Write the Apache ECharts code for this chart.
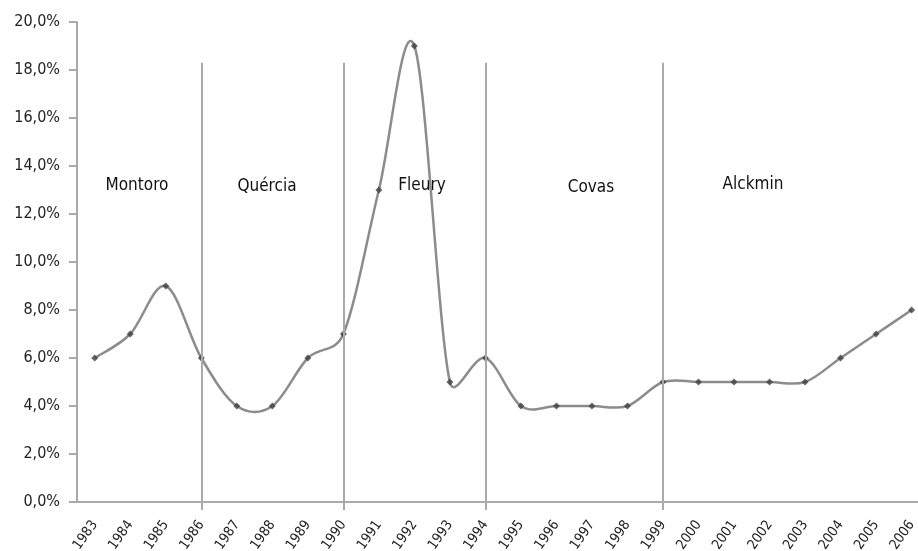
<!DOCTYPE html>
<html>
<head>
<meta charset="utf-8">
<script src="https://cdn.jsdelivr.net/npm/echarts@6/dist/echarts.min.js"></script>
<style>
html,body{margin:0;padding:0;background:#fff;}
#chart{width:918px;height:551px;}
</style>
</head>
<body>
<div id="chart"></div>
<script>
// ---- data ----
var years = ['1983','1984','1985','1986','1987','1988','1989','1990','1991','1992','1993','1994','1995','1996','1997','1998','1999','2000','2001','2002','2003','2004','2005','2006'];
var values = [6, 7, 9, 6, 4, 4, 6, 7, 13, 19, 5, 6, 4, 4, 4, 4, 5, 5, 5, 5, 5, 6, 7, 8];
var dividerYears = ['1986', '1990', '1994', '1999'];
var dividerTop = 18.3;
var governors = ['Montoro', 'Quércia', 'Fleury', 'Covas', 'Alckmin'];
var yTicks = [0, 2, 4, 6, 8, 10, 12, 14, 16, 18, 20];

// ---- layout (pixel positions for the governor labels) ----
var govPos = [[137, 186], [267, 187], [422, 186], [591, 188], [753, 185]];
var FONT = '"DejaVu Sans Condensed", "DejaVu Sans", sans-serif';

var xIdx = years.map(function (y, i) { return i; });
var dividerIdx = dividerYears.map(function (y) { return years.indexOf(y); });
var pairs = values.map(function (v, i) { return [i, v]; });

// Spreadsheet-style smoothed curve through the data points (drawn in pixel space)
function smoothPath(pts) {
  var n = pts.length;
  function dist(a, b) { return Math.sqrt((a[0]-b[0])*(a[0]-b[0]) + (a[1]-b[1])*(a[1]-b[1])); }
  var d = 'M' + pts[0][0] + ' ' + pts[0][1];
  for (var i = 0; i < n - 1; i++) {
    var p0 = pts[i > 0 ? i - 1 : i], p1 = pts[i], p2 = pts[i + 1], p3 = pts[i + 2 < n ? i + 2 : i + 1];
    var d12 = dist(p1, p2), d02 = dist(p0, p2), d13 = dist(p1, p3);
    var fa = d02 > 0 ? Math.min(1 / 6, d12 / (2 * d02)) : 0;
    var fb = d13 > 0 ? Math.min(1 / 6, d12 / (2 * d13)) : 0;
    var c1x = p1[0] + fa * (p2[0] - p0[0]), c1y = p1[1] + fa * (p2[1] - p0[1]);
    var c2x = p2[0] - fb * (p3[0] - p1[0]), c2y = p2[1] - fb * (p3[1] - p1[1]);
    d += ' C' + c1x + ' ' + c1y + ' ' + c2x + ' ' + c2y + ' ' + p2[0] + ' ' + p2[1];
  }
  return d;
}

var chart = echarts.init(document.getElementById('chart'));
var option = {
  animation: false,
  backgroundColor: '#ffffff',
  grid: { left: 77, right: 0, top: 22, height: 480, containLabel: false, outerBoundsMode: 'none' },
  xAxis: {
    type: 'value',
    min: -0.5,
    max: 23.18,
    axisLine: { show: true, onZero: false, lineStyle: { color: '#aaaaaa', width: 2 } },
    axisTick: {
      show: true,
      customValues: dividerIdx,
      length: 8,
      lineStyle: { color: '#aaaaaa', width: 2 }
    },
    axisLabel: {
      customValues: xIdx,
      rotate: 55,
      margin: 20,
      fontSize: 14,
      color: '#222',
      fontFamily: FONT,
      formatter: function (v) { return years[Math.round(v)] || ''; }
    },
    splitLine: { show: false }
  },
  yAxis: {
    type: 'value',
    min: yTicks[0],
    max: yTicks[yTicks.length - 1],
    interval: 2,
    axisLine: { show: true, onZero: false, lineStyle: { color: '#aaaaaa', width: 2 } },
    axisTick: { show: true, length: 8, lineStyle: { color: '#aaaaaa', width: 2 } },
    axisLabel: {
      margin: 17,
      fontSize: 16,
      color: '#222',
      fontFamily: FONT,
      formatter: function (v) { return v.toFixed(1).replace('.', ',') + '%'; }
    },
    splitLine: { show: false }
  },
  series: [{
    type: 'custom',
    data: pairs,
    encode: { x: 0, y: 1 },
    z: 2,
    silent: true,
    renderItem: function (params, api) {
      if (params.dataIndex !== 0) return null;
      var pts = pairs.map(function (p) { return api.coord(p); });
      return {
        type: 'path',
        shape: { pathData: smoothPath(pts) },
        style: { fill: 'none', stroke: '#8c8c8c', lineWidth: 2.5 }
      };
    }
  }, {
    type: 'scatter',
    data: pairs,
    symbol: 'diamond',
    symbolSize: 7,
    itemStyle: { color: '#404040' },
    z: 3,
    markLine: {
      silent: true,
      symbol: ['none', 'none'],
      label: { show: false },
      lineStyle: { color: '#aaaaaa', width: 2, type: 'solid' },
      data: dividerIdx.map(function (i) {
        return [{ coord: [i, 0] }, { coord: [i, dividerTop] }];
      })
    }
  }],
  graphic: governors.map(function (name, i) {
    return {
      type: 'text',
      x: govPos[i][0],
      y: govPos[i][1],
      style: {
        text: name,
        fontSize: 17,
        fontFamily: FONT,
        fill: '#111',
        textAlign: 'center',
        textVerticalAlign: 'middle'
      }
    };
  })
};
chart.setOption(option);
</script>
</body>
</html>
